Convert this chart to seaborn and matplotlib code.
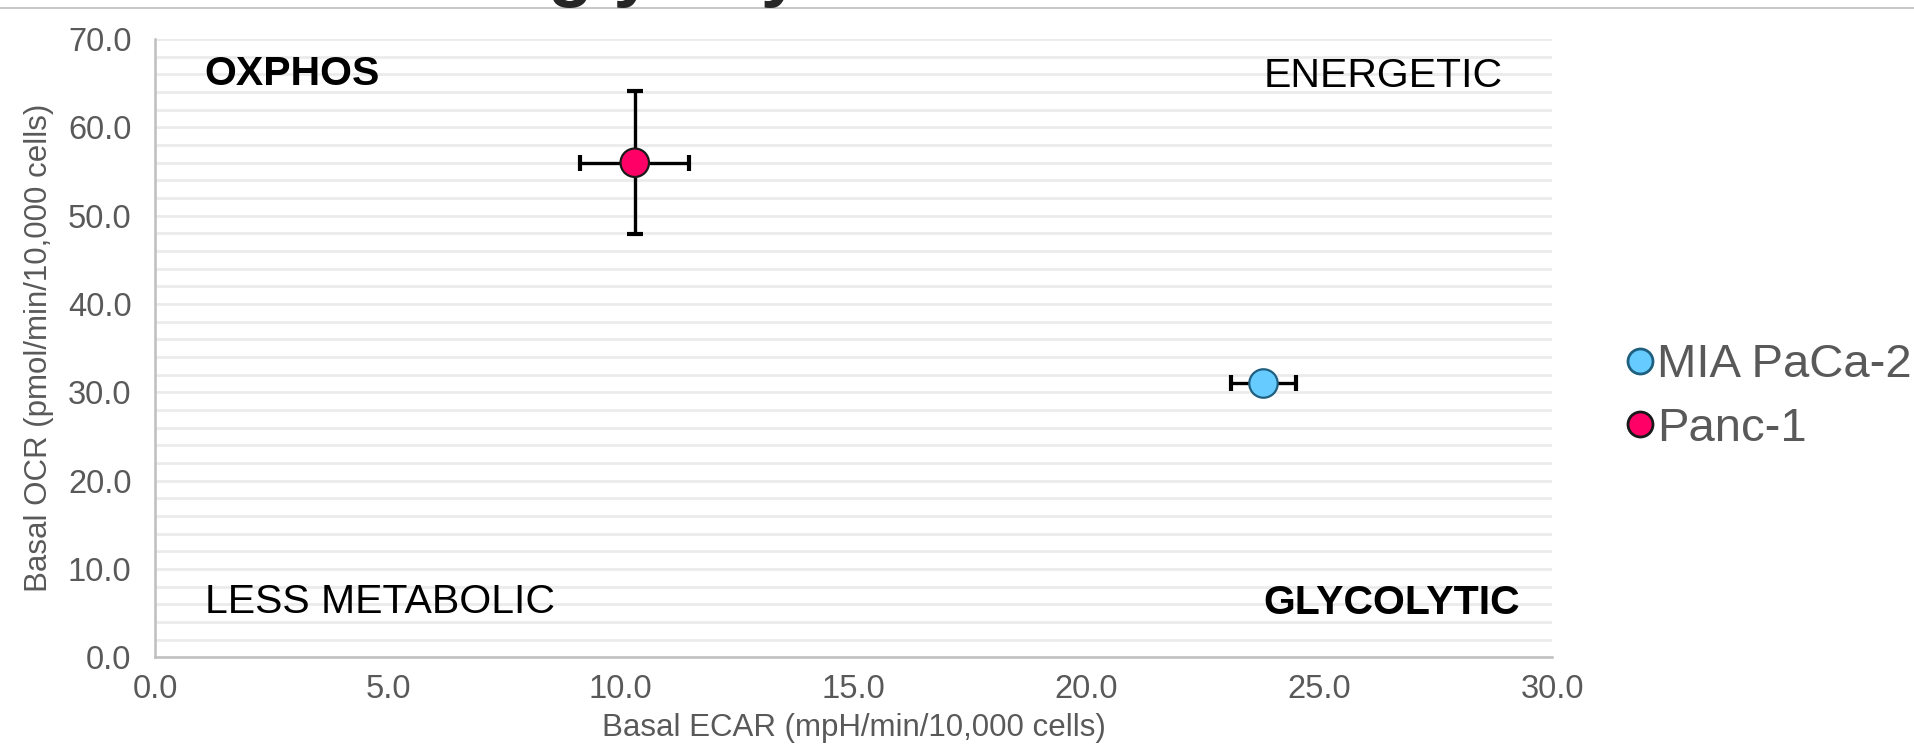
import matplotlib
matplotlib.use("Agg")
import pandas as pd
import seaborn as sns
from matplotlib import pyplot as plt
from matplotlib.lines import Line2D
from matplotlib.ticker import MultipleLocator, FormatStrFormatter

# values
cell_lines = ["MIA PaCa-2", "Panc-1"]
ecar = [23.8, 10.3]
ocr = [31.0, 56.0]
ecar_err = [0.7, 1.17]
ocr_err = [0.4, 8.1]
fill_colors = ["#66CCFF", "#FF0066"]
edge_colors = ["#1F5F7F", "#1A1A1A"]

quadrants = ["OXPHOS", "ENERGETIC", "LESS METABOLIC", "GLYCOLYTIC"]
quad_x = [1.07, 23.8, 1.07, 23.8]
quad_y = [66.1, 65.8, 6.3, 6.1]
quad_bold = [True, False, False, True]

df = pd.DataFrame({"line": cell_lines, "ecar": ecar, "ocr": ocr})

sns.set_theme(style="white")
plt.rcParams["font.family"] = ["Liberation Sans", "DejaVu Sans"]

fig = plt.figure(figsize=(19.14, 7.52), dpi=100)
ax = fig.add_axes([0.081, 0.126, 0.730, 0.822])

# error bars first so markers sit on top
ax.errorbar(ecar, ocr, xerr=ecar_err, yerr=ocr_err, fmt="none", ecolor="black",
            elinewidth=2.4, capsize=6, capthick=3, zorder=2)
sns.scatterplot(data=df, x="ecar", y="ocr", hue="line", palette=fill_colors,
                s=420, linewidth=1.6, legend=False, ax=ax, zorder=3)
ax.collections[-1].set_edgecolors(edge_colors)

ax.set_xlim(0, 30)
ax.set_ylim(0, 70)
ax.xaxis.set_major_locator(MultipleLocator(5))
ax.yaxis.set_major_locator(MultipleLocator(10))
ax.yaxis.set_minor_locator(MultipleLocator(2))
ax.xaxis.set_major_formatter(FormatStrFormatter("%.1f"))
ax.yaxis.set_major_formatter(FormatStrFormatter("%.1f"))
ax.grid(False)
ax.grid(True, axis="y", which="both", color="#EBEBEB", linewidth=2)
ax.set_axisbelow(True)

for side in ["top", "right"]:
    ax.spines[side].set_visible(False)
for side in ["left", "bottom"]:
    ax.spines[side].set_color("#BFBFBF")
    ax.spines[side].set_linewidth(1.8)

ax.tick_params(axis="both", which="both", length=0, labelsize=23.5, colors="#595959")
ax.tick_params(axis="y", pad=17)
ax.tick_params(axis="x", pad=12)
ax.set_xlabel("Basal ECAR (mpH/min/10,000 cells)", fontsize=22.5, color="#595959", labelpad=6)
ax.set_ylabel("Basal OCR (pmol/min/10,000 cells)", fontsize=22.5, color="#595959", labelpad=10)

for name, qx, qy, b in zip(quadrants, quad_x, quad_y, quad_bold):
    ax.text(qx, qy, name, fontsize=29.5, fontweight="bold" if b else "normal",
            color="black", ha="left", va="center")

handles = [Line2D([], [], marker="o", linestyle="none", markersize=18,
                  markerfacecolor=fc, markeredgecolor=ec, markeredgewidth=2)
           for fc, ec in zip(fill_colors, edge_colors)]
leg = ax.legend(handles, cell_lines, loc="center left", bbox_to_anchor=(1.053, 0.421),
                frameon=False, fontsize=34, handlelength=0.6, handletextpad=0.05,
                labelspacing=0.42, borderaxespad=0, borderpad=0)
for t in leg.get_texts():
    t.set_color("#595959")

# cut-off title above the frame and its rule line
fig.text(548 / 1914, 1 + 7 / 752, "glycolysis", fontsize=53, fontweight="bold",
         ha="left", va="baseline")
fig.add_artist(Line2D([0, 1], [1 - 8 / 752, 1 - 8 / 752], transform=fig.transFigure,
                      color="#C8C8C8", linewidth=1.5))

plt.savefig("out.png", dpi=100)
plt.close()
